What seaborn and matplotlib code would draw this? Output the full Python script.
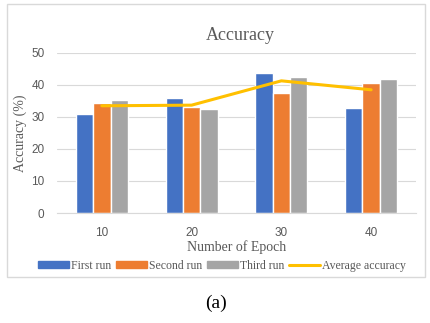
import numpy as np
import pandas as pd
import matplotlib
matplotlib.use("Agg")
import matplotlib.pyplot as plt
import seaborn as sns
from matplotlib.patches import Rectangle, Patch
from matplotlib.lines import Line2D

# Dados
epocas = ["10", "20", "30", "40"]
primeira = [30.9, 35.9, 43.7, 32.8]
segunda = [34.4, 33.1, 37.5, 40.6]
terceira = [35.4, 32.5, 42.5, 42.0]
media = [33.5, 33.7, 41.3, 38.5]
series = ["First run", "Second run", "Third run"]
cores = ["#4472C4", "#ED7D31", "#A5A5A5"]
cor_media = "#FFC000"

df = pd.DataFrame({
    "epoca": epocas * 3,
    "valor": primeira + segunda + terceira,
    "run": [s for s in series for _ in epocas],
})

sns.set_style("white")
serif = "Liberation Serif"
sans = "Liberation Sans"

fig = plt.figure(figsize=(4.31, 3.23), dpi=100)
W, H = 431, 323
ax = fig.add_axes([57 / W, 1 - 213 / H, (416 - 57) / W, (213 - 53) / H])

sns.barplot(data=df, x="epoca", y="valor", hue="run", palette=cores,
            width=0.58, gap=0, saturation=1, legend=False, ax=ax)
sns.lineplot(x=np.arange(len(epocas)), y=media, color=cor_media,
             linewidth=2.2, ax=ax)

ax.set_xlim(-0.5, 3.5)
ax.set_ylim(0, 50)
ax.set_yticks(range(0, 51, 10))
ax.yaxis.grid(True, color="#D9D9D9", linewidth=0.8)
ax.set_axisbelow(True)
for s in ["top", "right", "left"]:
    ax.spines[s].set_visible(False)
ax.spines["bottom"].set_color("#D9D9D9")
ax.tick_params(axis="x", length=0, labelsize=8.5, labelcolor="#595959", pad=10)
ax.tick_params(axis="y", length=0, labelsize=8.5, labelcolor="#595959", pad=9)
for lab in ax.get_xticklabels() + ax.get_yticklabels():
    lab.set_fontfamily(sans)

ax.set_xlabel("Number of Epoch", fontsize=10, family=serif, color="#595959", labelpad=1)
ax.set_ylabel("Accuracy (%)", fontsize=10, family=serif, color="#595959", labelpad=3)

fig.text(240 / W, 1 - 36 / H, "Accuracy", ha="center", va="center",
         fontsize=13, family=serif, color="#595959")

handles = [Patch(color=c) for c in cores] + [Line2D([], [], color=cor_media, lw=2.2)]
fig.legend(handles, series + ["Average accuracy"], loc="center",
           bbox_to_anchor=(222 / W, 1 - 266 / H), ncol=4, frameon=False,
           handlelength=2.6, handleheight=0.5, handletextpad=0.2, columnspacing=0.4,
           prop={"family": serif, "size": 8.5}, labelcolor="#595959")

fig.patches.append(Rectangle((7 / W, 1 - 277 / H), (425 - 7) / W, (277 - 4) / H,
                             transform=fig.transFigure, fill=False,
                             edgecolor="#D9D9D9", linewidth=1))

fig.text(216 / W, 1 - 303 / H, "(a)", ha="center", va="center",
         fontsize=14, family=serif, color="black")

fig.savefig("out.png", dpi=100)
